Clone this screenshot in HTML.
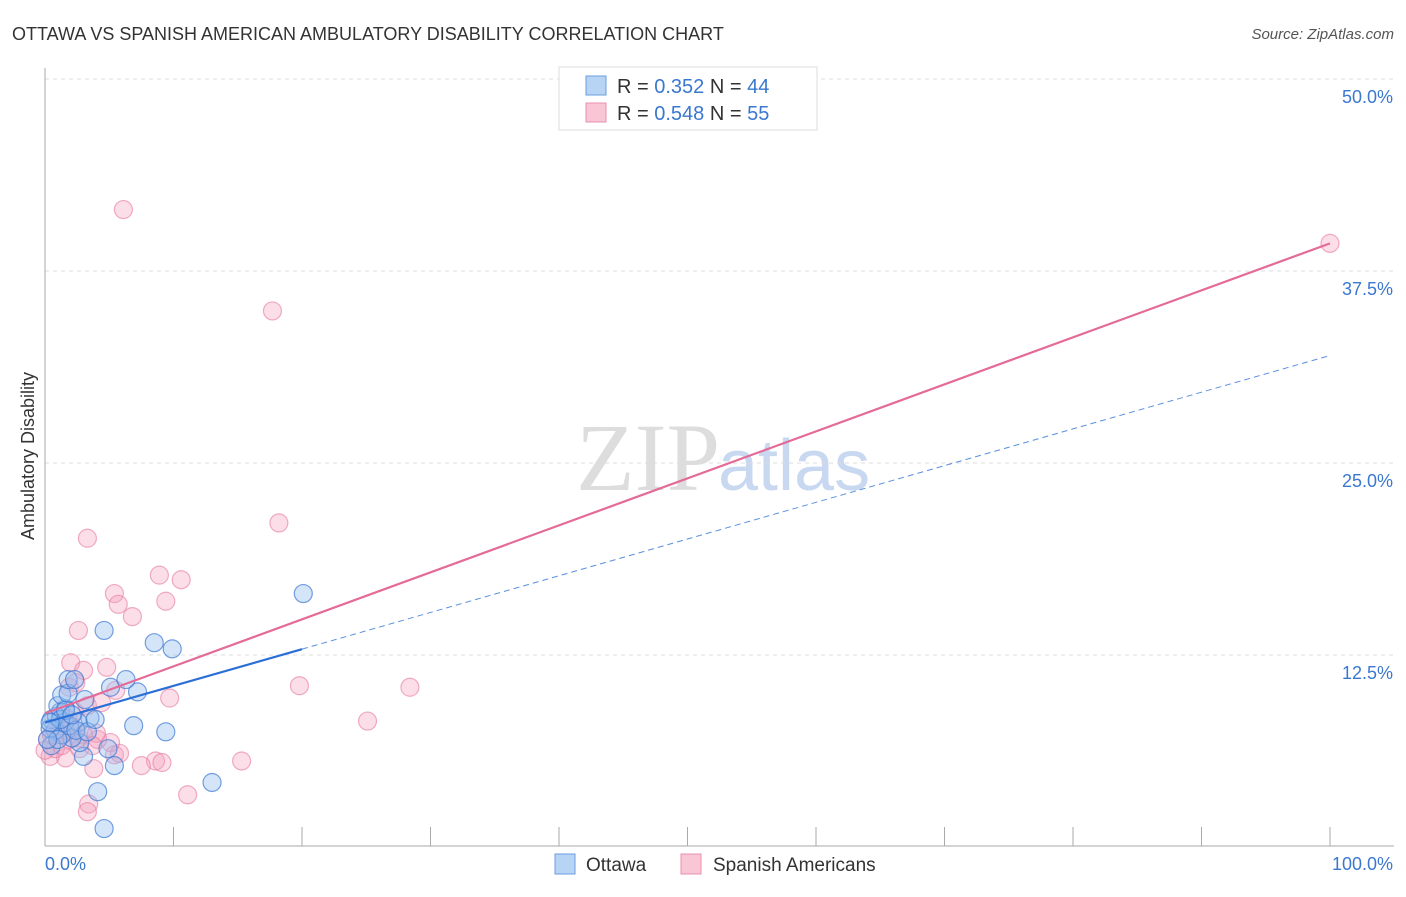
<!DOCTYPE html>
<html><head><meta charset="utf-8"><style>
body{margin:0;background:#fff;font-family:"Liberation Sans",sans-serif;}
</style></head><body>
<svg width="1406" height="892" xmlns="http://www.w3.org/2000/svg" id="svg">
<text x="12" y="40" font-size="18" fill="#333">OTTAWA VS SPANISH AMERICAN AMBULATORY DISABILITY CORRELATION CHART</text>
<text x="1394" y="39" font-size="15" fill="#555" font-style="italic" text-anchor="end">Source: ZipAtlas.com</text>
<text x="720" y="490" font-size="96" fill="#ddd" font-family="Liberation Serif" text-anchor="end">ZIP</text>
<text x="718" y="490" font-size="72" fill="#c8d8f0">atlas</text>
<text x="34" y="456" font-size="18" fill="#333" transform="rotate(-90 34 456)" text-anchor="middle">Ambulatory Disability</text>
<g id="grid"></g><g id="pts"></g><g id="lines"></g>
<g>
<rect x="559" y="67" width="258" height="63" fill="#fff" stroke="#ddd"/>
<rect x="586" y="76" width="20" height="19" fill="#b8d4f5" stroke="#6a9de0"/>
<rect x="586" y="103" width="20" height="19" fill="#f9c6d6" stroke="#e890ae"/>
<text x="617" y="93" font-size="20" fill="#333">R = <tspan fill="#3a78d0">0.352</tspan>   N = <tspan fill="#3a78d0">44</tspan></text>
<text x="617" y="120" font-size="20" fill="#333">R = <tspan fill="#3a78d0">0.548</tspan>   N = <tspan fill="#3a78d0">55</tspan></text>
</g>
<g>
<rect x="555" y="854" width="20" height="20" fill="#b8d4f5" stroke="#6a9de0"/>
<text x="586" y="871" font-size="19" fill="#333">Ottawa</text>
<rect x="681" y="854" width="20" height="20" fill="#f9c6d6" stroke="#e890ae"/>
<text x="713" y="871" font-size="19" fill="#333">Spanish Americans</text>
</g>
</svg>
<script>
const yTicks=[12.5,25,37.5,50];
const yTickLabels=["12.5%","25.0%","37.5%","50.0%"];
const xTicks=[0,10,20,30,40,50,60,70,80,90,100];
const ottawaX=[4.6,4.1,13.0,5.4,3.0,9.4,6.9,4.9,2.7,2.1,1.3,0.8,0.5,1.2,1.6,3.5,1.5,2.6,0.9,1.0,1.3,1.8,1.8,2.3,5.1,7.2,6.3,4.6,8.5,9.9,20.1,0.4,0.5,1.9,2.4,3.3,1.0,0.2,3.9,1.2,3.1,1.6,2.1,0.4];
const ottawaY=[1.2,3.6,4.2,5.3,5.9,7.5,7.9,6.4,6.8,7.1,7.3,7.6,8.3,8.8,9.0,8.4,8.1,8.1,8.5,9.2,9.9,10.0,10.9,10.9,10.4,10.1,10.9,14.1,13.3,12.9,16.5,7.7,6.6,7.9,7.6,7.5,7.0,7.0,8.3,8.3,9.6,8.9,8.6,8.1];
const spanX=[6.1,17.7,18.2,3.3,8.9,10.6,5.4,5.7,9.4,6.8,2.6,2.0,3.0,4.8,1.9,2.4,5.5,9.7,19.8,28.4,25.1,15.3,11.1,3.4,3.3,3.8,1.6,5.4,5.8,8.6,9.1,7.5,5.1,4.1,4.0,3.3,2.3,1.2,0.2,0.4,0.8,1.3,1.9,2.6,3.0,1.0,1.6,2.1,0.0,0.5,2.7,3.7,100,1.8,4.4];
const spanY=[41.5,34.9,21.1,20.1,17.7,17.4,16.5,15.8,16.0,15.0,14.1,12.0,11.5,11.7,10.4,10.7,10.2,9.7,10.5,10.4,8.2,5.6,3.4,2.8,2.3,5.1,5.8,6.0,6.1,5.6,5.5,5.3,6.8,7.0,7.4,9.2,8.8,7.9,7.0,5.9,6.4,6.6,7.0,7.1,7.3,7.3,7.6,7.7,6.3,7.3,6.4,6.6,39.3,8.3,9.4];
const ottawaTrend=[8.1,32.0]; // y at x=0 and x=100
const spanTrend=[8.7,39.3];
const ottawaSolidEnd=20;
const NS="http://www.w3.org/2000/svg";
const X=v=>45+v*12.85, Y=v=>847-v*15.36;
function mk(tag,attrs,parent){const e=document.createElementNS(NS,tag);for(const k in attrs)e.setAttribute(k,attrs[k]);parent.appendChild(e);return e;}
const grid=document.getElementById('grid'),pts=document.getElementById('pts'),lines=document.getElementById('lines');
yTicks.forEach((t,i)=>{
 const l=mk('line',{x1:45,x2:1394,y1:Y(t),y2:Y(t),stroke:'#ddd','stroke-dasharray':'4 4'},grid);
 
 
 const tx=mk('text',{x:1393,y:Y(t)+24,'font-size':18,fill:'#3a78d0','text-anchor':'end'},grid);
 tx.textContent=yTickLabels[i];
 
 
});
const ax=mk('line',{x1:45,x2:1394,y1:846,y2:846,stroke:'#aaa'},grid);


const ay=mk('line',{x1:45,x2:45,y1:68,y2:846,stroke:'#aaa'},grid);


xTicks.forEach(t=>{if(t===0)return;
 const l=mk('line',{x1:X(t),x2:X(t),y1:827,y2:846,stroke:'#aaa'},grid);
 
 
});
[[0,'0.0%',45,'start'],[100,'100.0%',1393,'end']].forEach(a=>{
 const tx=mk('text',{x:a[2],y:870,'font-size':18,fill:'#3a78d0','text-anchor':a[3]},grid);
 tx.textContent=a[1];
 
 
});
spanX.forEach((x,i)=>{
 const c=mk('circle',{cx:X(x),cy:Y(spanY[i]),r:9,fill:'rgba(244,160,190,0.35)',stroke:'rgba(232,120,160,0.6)','stroke-width':1.2},pts);
 
 
});
ottawaX.forEach((x,i)=>{
 const c=mk('circle',{cx:X(x),cy:Y(ottawaY[i]),r:9,fill:'rgba(150,190,240,0.4)',stroke:'rgba(60,120,210,0.7)','stroke-width':1.2},pts);
 
 
});
const oy=x=>ottawaTrend[0]+(ottawaTrend[1]-ottawaTrend[0])*x/100;
let l1=mk('line',{x1:X(0),y1:Y(spanTrend[0]),x2:X(100),y2:Y(spanTrend[1]),stroke:'#e46a98','stroke-width':2.2},lines);


let l2=mk('line',{x1:X(0),y1:Y(oy(0)),x2:X(ottawaSolidEnd),y2:Y(oy(ottawaSolidEnd)),stroke:'#2a6fd6','stroke-width':2.2},lines);


let l3=mk('line',{x1:X(ottawaSolidEnd),y1:Y(oy(ottawaSolidEnd)),x2:X(100),y2:Y(oy(100)),stroke:'#5a8fe0','stroke-width':1,'stroke-dasharray':'6 4'},lines);


</script>
</body></html>
